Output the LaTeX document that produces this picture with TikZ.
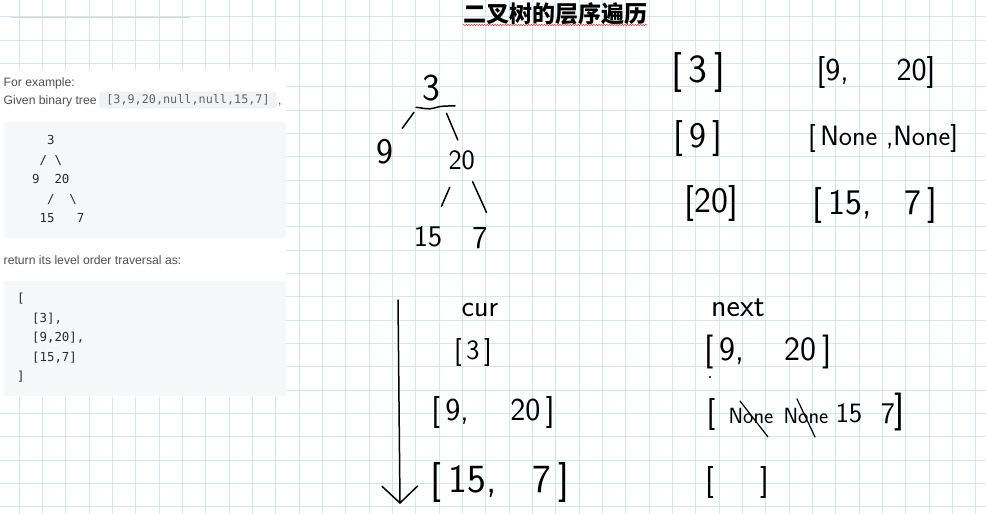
\documentclass[tikz,border=0pt]{standalone}
\usepackage{fontspec}
\usetikzlibrary{arrows.meta,decorations.pathmorphing,calc}
\newfontfamily\cjkfont{Noto Sans CJK SC}
\newfontfamily\uifont{Liberation Sans}
\newfontfamily\codefont{DejaVu Sans Mono}
\definecolor{gridc}{RGB}{212,230,244}
\definecolor{codebg}{RGB}{246,247,249}
\definecolor{inlinebg}{RGB}{241,242,244}
\definecolor{textgray}{RGB}{80,80,80}
\definecolor{codegray}{RGB}{45,45,45}
\definecolor{inlinegray}{RGB}{100,100,100}
\newcommand\hwfs[1]{\fontsize{#1}{#1}\selectfont}
\tikzset{
  gridline/.style={gridc, line width=0.9pt},
  uitext/.style={font=\uifont\fontsize{12.2}{14}\selectfont, text=textgray, inner sep=0pt, anchor=base west},
  codeline/.style={font=\codefont\fontsize{12.4}{14}\selectfont, text=codegray, inner sep=0pt, anchor=base west},
  hw/.style={font=\sffamily, text=black, inner sep=1pt},
  hwline/.style={black, line width=1.5pt, line cap=round, line join=round},
}
\begin{document}
\begin{tikzpicture}[x=1pt,y=-1pt]
\useasboundingbox (0,0) rectangle (986,514);
\fill[white] (0,0) rectangle (986,514);
% grid
\foreach \k in {0,...,41} \draw[gridline] ({19+23.333*\k},0) -- ({19+23.333*\k},514);
\foreach \k in {-1,...,20} \draw[gridline] (0,{40+23.333*\k}) -- (986,{40+23.333*\k});
\draw[black!15, line width=0.8pt] (11,17) -- (190,17);
% left panel
\fill[white] (0,70) rectangle (286,397);
\fill[codebg] (4,121.5) rectangle (286,237.5);
\fill[codebg] (4,281) rectangle (286,396);
\node[uitext] (forex) at (3.5,86) {For example:};
\node[uitext] (given) at (3.5,104.5) {Given binary tree};
\node[font=\codefont\fontsize{11.8}{13}\selectfont, text=inlinegray, fill=inlinebg,
      minimum height=16.6pt, inner xsep=7pt, inner ysep=0pt, rounded corners=2pt] (arr) at (188,100) {[3,9,20,null,null,15,7]};
\node[uitext] (comma) at (278,104.5) {,};
\node[codeline] (t1) at (17,144.5) {\phantom{0000}3};
\node[codeline] (t2) at (17,164) {\phantom{000}/\phantom{0}\textbackslash};
\node[codeline] (t3) at (17,183.5) {\phantom{00}9\phantom{00}20};
\node[codeline] (t4) at (17,203) {\phantom{0000}/\phantom{00}\textbackslash};
\node[codeline] (t5) at (17,222.5) {\phantom{000}15\phantom{000}7};
\node[uitext] (ret) at (3.5,264) {return its level order traversal as:};
\node[codeline] (r1) at (17,302.8) {[};
\node[codeline] (r2) at (17,322.3) {\phantom{00}[3],};
\node[codeline] (r3) at (17,341.8) {\phantom{00}[9,20],};
\node[codeline] (r4) at (17,361.3) {\phantom{00}[15,7]};
\node[codeline] (r5) at (17,380.8) {]};
% title
\node[font=\cjkfont\bfseries\fontsize{23}{26}\selectfont, inner sep=0pt] (title) at (555,14) {二叉树的层序遍历};
\draw[red!75, line width=0.6pt, decorate, decoration={snake, amplitude=0.7pt, segment length=2.6pt}] (463,25) -- (647,25);
% tree
\node[hw, font=\sffamily\hwfs{38}] (root) at (431.7,88) {3};
\node[hw, font=\sffamily\hwfs{36}] (n9) at (385,152) {9};
\node[hw, font=\sffamily\hwfs{28}] (n20) at (461.7,160) {20};
\node[hw, font=\sffamily\hwfs{30}] (n15) at (428,237) {15};
\node[hw, font=\sffamily\hwfs{32}] (n7) at (480,238) {7};
\draw[hwline, rounded corners=4pt] ($(root.south)+(-15.7,5)$) -- ++(14,2) -- ++(10,-3) -- ++(15,-0.5);
\draw[hwline, shorten <=13pt, shorten >=13pt] (root) -- (n9);
\draw[hwline, shorten <=12pt, shorten >=10pt] (root.south east) -- (n20.north);
\draw[hwline, shorten <=18pt, shorten >=21pt] (n20) -- (n15);
\draw[hwline, shorten <=12pt, shorten >=15pt] ([xshift=6pt]n20.south) -- ([xshift=4pt]n7.north east);
% right top
\node[hw, font=\sffamily\hwfs{40}] (c3) at (698,72) {[\,3\,]};
\node[hw, font=\sffamily\hwfs{32}] (p920) at (876,72) {[9,\hspace{1.5em}20]};
\node[hw, font=\sffamily\hwfs{36}] (c9) at (698,138) {[\,9\,]};
\node[hw, font=\sffamily\hwfs{28}] (pnone) at (883,138) {[\,None ,None]};
\node[hw, font=\sffamily\hwfs{36}] (c20) at (711.7,203) {[20]};
\node[hw, font=\sffamily\hwfs{36}] (p157) at (875,205) {[\,15,\hspace{0.9em}7\,]};
% bottom
\coordinate (atop) at (398,300);
\coordinate (abot) at (400,504);
\draw[hwline, -{Straight Barb[length=17pt, width=36pt]}] (atop) -- (abot);
\node[hw, font=\sffamily\hwfs{30}, anchor=base] (cur) at (480,316.7) {cur};
\node[hw, font=\sffamily\hwfs{32}, anchor=base] (next) at (738,316.7) {next};
\node[hw, font=\sffamily\hwfs{28}] (b3) at (473,352) {[\,3\,]};
\node[hw, font=\sffamily\hwfs{32}] (b920) at (493,412) {[\,9,\hspace{1.3em}20\,]};
\node[hw, font=\sffamily\hwfs{40}] (b157) at (500,482) {[\,15,\hspace{0.9em}7\,]};
\node[hw, font=\sffamily\hwfs{34}] (x920) at (768,352) {[\,9,\hspace{1.2em}20\,]};
\coordinate (dot) at (710,377);
\fill[black] (dot) circle (1.1);
\node[hw, font=\sffamily\hwfs{32}] (xlb) at (711,414) {[};
\node[hw, font=\sffamily\hwfs{22}] (none1) at (751,416) {None};
\node[hw, font=\sffamily\hwfs{22}] (none2) at (806,416) {None};
\node[hw, font=\sffamily\hwfs{28}] (x15) at (849,413) {15};
\node[hw, font=\sffamily\hwfs{30}] (x7) at (888,414) {7};
\node[hw, font=\sffamily\hwfs{38}] (xrb) at (900,412) {]};
\draw[hwline, line width=1.2pt] ($(none1)+(-11,-15)$) -- ($(none1)+(17,21)$);
\draw[hwline, line width=1.2pt] ($(none2)+(-9,-17)$) -- ($(none2)+(9,21)$);
\node[hw, font=\sffamily\hwfs{32}] (xempty) at (737,482) {[\hspace{1.45em}]};
\end{tikzpicture}
\end{document}
